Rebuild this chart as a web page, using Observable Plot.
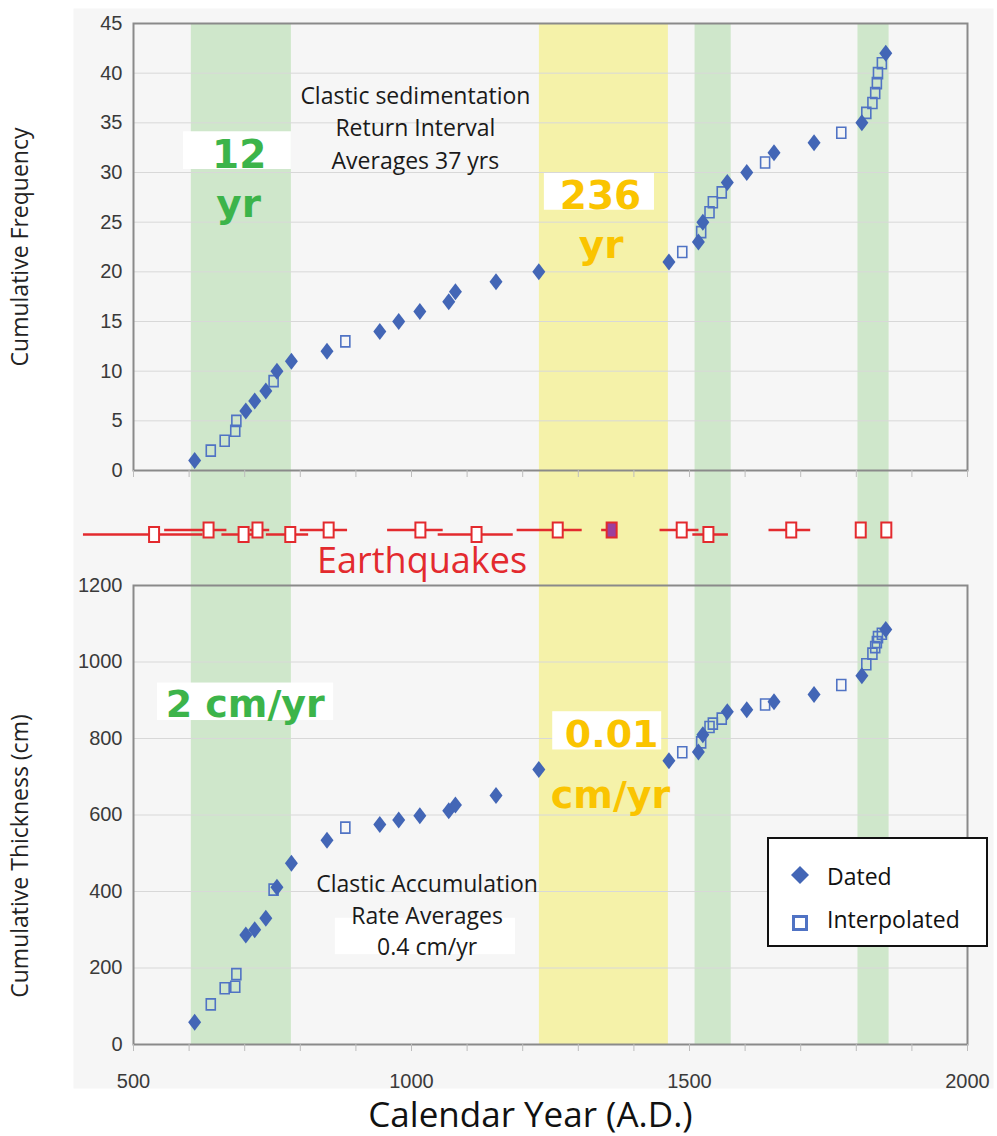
<!DOCTYPE html>
<html>
<head>
<meta charset="utf-8">
<script src="https://cdn.jsdelivr.net/npm/d3@7"></script>
<script src="https://cdn.jsdelivr.net/npm/@observablehq/plot@0.6"></script>
<style>
  body { margin: 0; background: #ffffff; }
  #chart { position: relative; width: 997px; height: 1136px; overflow: hidden; background: #fff; }
  #chart svg { position: absolute; left: 0; }
  .legend { position: absolute; left: 767px; top: 837px; width: 221px; height: 110px; box-sizing: border-box;
            border: 2px solid #111; background: #fff; }
  .legend svg { position: absolute; left: 0; top: 0; }
</style>
</head>
<body>
<div id="chart"></div>
<script>
// ---------------- data ----------------
const years        = [610, 639, 664, 683, 685, 702, 718, 738, 752, 758, 784, 848, 881, 943, 977, 1015, 1067, 1079, 1152, 1229,
                      1463, 1487, 1516, 1521, 1524, 1536, 1542, 1558, 1568, 1603, 1636, 1652, 1724, 1773, 1810, 1818, 1829, 1834, 1837, 1839, 1846, 1853];
const eventType    = ["Dated","Interpolated","Interpolated","Interpolated","Interpolated","Dated","Dated","Dated","Interpolated","Dated",
                      "Dated","Dated","Interpolated","Dated","Dated","Dated","Dated","Dated","Dated","Dated",
                      "Dated","Interpolated","Dated","Interpolated","Dated","Interpolated","Interpolated","Interpolated","Dated","Dated",
                      "Interpolated","Dated","Dated","Interpolated","Dated","Interpolated","Interpolated","Interpolated","Interpolated","Interpolated","Interpolated","Dated"];
const cumFrequency = [1, 2, 3, 4, 5, 6, 7, 8, 9, 10, 11, 12, 13, 14, 15, 16, 17, 18, 19, 20,
                      21, 22, 23, 24, 25, 26, 27, 28, 29, 30, 31, 32, 33, 34, 35, 36, 37, 38, 39, 40, 41, 42];
const cumThickness = [58, 105, 147, 151, 184, 286, 300, 330, 405, 411, 474, 534, 567, 575, 587, 598, 611, 626, 651, 719,
                      742, 764, 765, 790, 810, 830, 839, 852, 870, 875, 889, 896, 915, 940, 964, 994, 1022, 1039, 1052, 1065, 1074, 1085];

// earthquakes: central year, range, row
const eqYear = [537, 635, 698, 723, 782, 851, 1016, 1117, 1263, 1360, 1486, 1534, 1683, 1808, 1854];
const eqMin  = [410, 556, 659, 710, 739, 800, 957, 1048, 1190, 1342, 1447, 1506, 1643, null, null];
const eqMax  = [625, 668, 715, 745, 815, 885, 1057, 1183, 1307, 1370, 1517, 1570, 1718, null, null];
const eqLane = [1, 0, 1, 0, 1, 0, 0, 1, 0, 0, 0, 1, 0, 0, 0];
const eqKind = ["open","open","open","open","open","open","open","open","open","filled","open","open","open","open","open"];

// shaded periods
const bandStart = [604, 1230, 1510, 1803];
const bandEnd   = [784, 1462, 1575, 1859];
const bandRate  = ["fast", "slow", "fast", "fast"];

// ticks
const yearMinor  = [500, 600, 700, 800, 900, 1000, 1100, 1200, 1300, 1400, 1500, 1600, 1700, 1800, 1900, 2000];
const yearLabels = [500, 1000, 1500, 2000];
const freqTicks  = [0, 5, 10, 15, 20, 25, 30, 35, 40, 45];
const thickTicks = [0, 200, 400, 600, 800, 1000, 1200];

// ---------------- tables ----------------
const events = years.map((y, i) => ({year: y, type: eventType[i], freq: cumFrequency[i], thick: cumThickness[i]}));
const quakes = eqYear.map((y, i) => ({year: y, lo: eqMin[i], hi: eqMax[i], lane: eqLane[i], kind: eqKind[i]}));
const bands  = bandStart.map((s, i) => ({start: s, end: bandEnd[i], rate: bandRate[i]}));

// ---------------- styles ----------------
const W = 997, ML = 133, MR = 30;
const GREEN = "#3cb44a", GOLD = "#fac400", RED = "#e32a2e";
const DIAMOND_FILL = "#4366b6", SQUARE_STROKE = "#5073c4";
const diamondSym = {draw(ctx) { ctx.moveTo(0, -8.5); ctx.lineTo(6.5, 0); ctx.lineTo(0, 8.5); ctx.lineTo(-6.5, 0); ctx.closePath(); }};
const hollowSq   = {draw(ctx) { ctx.rect(-4.5, -5.5, 9, 11); }};
const quakeBox   = {draw(ctx) { ctx.rect(-5, -7.5, 10, 15); }};
const baseStyle  = {background: "transparent", fontFamily: "Liberation Sans, Arial, sans-serif", fontSize: "20px", color: "#3a3a3a", overflow: "visible"};
const bigFont = "DejaVu Sans, sans-serif";
const txtFont = "Open Sans, sans-serif";
const plain = d => String(d);

const chart = document.getElementById("chart");
function place(svg, top) { svg.style.top = top + "px"; chart.appendChild(svg); }

// ---------------- background: panel fill + shaded periods ----------------
place(Plot.plot({
  width: W, height: 1136, marginLeft: ML, marginRight: MR, marginTop: 23, marginBottom: 92,
  style: baseStyle,
  x: {domain: [500, 2000], axis: null},
  marks: [
    Plot.frame({fill: "#f6f6f6", stroke: null, insetLeft: -60, insetRight: -26, insetTop: -15, insetBottom: -44}),
    Plot.rect(bands, {x1: "start", x2: "end", fill: d => d.rate === "fast" ? "#cfe7cb" : "#f5f2a9"})
  ]
}), 0);

// ---------------- top panel: cumulative frequency ----------------
place(Plot.plot({
  width: W, height: 490, marginLeft: ML, marginRight: MR, marginTop: 23, marginBottom: 20,
  style: baseStyle,
  x: {domain: [500, 2000]},
  y: {domain: [0, 45]},
  marks: [
    Plot.ruleY(freqTicks.filter(v => v > 0 && v < 45), {stroke: "#d8d8d8", strokeWidth: 1}),
    Plot.frame({stroke: "#8a8a8a", strokeWidth: 2}),
    Plot.axisX({ticks: yearMinor, tickSize: 7, tickFormat: () => "", stroke: "#bdbdbd", label: null}),
    Plot.axisY({ticks: freqTicks, tickFormat: plain, tickSize: 0, tickPadding: 11, fontSize: 20, fill: "#3a3a3a", label: null}),
    Plot.text(["Cumulative Frequency"], {frameAnchor: "left", textAnchor: "middle", lineAnchor: "middle", rotate: -90, dx: -113, fontSize: 23, fontFamily: txtFont, fill: "#222"}),
    Plot.text(["Clastic sedimentation\nReturn Interval\nAverages 37 yrs"], {x: 1007, y: 34.7, fontSize: 23, lineHeight: 1.41, fontFamily: txtFont, fill: "#1a1a1a"}),
    Plot.rect([0], {x1: 590, x2: 784, y1: 30.3, y2: 34.1, fill: "white"}),
    Plot.text(["12"], {x: 690, y: 31.7, fontSize: 39, fontWeight: "bold", fontFamily: bigFont, fill: GREEN}),
    Plot.text(["yr"], {x: 689, y: 26.8, fontSize: 39, fontWeight: "bold", fontFamily: bigFont, fill: GREEN}),
    Plot.rect([0], {x1: 1239, x2: 1437, y1: 26.2, y2: 29.9, fill: "white"}),
    Plot.text(["236"], {x: 1340, y: 27.6, fontSize: 39, fontWeight: "bold", fontFamily: bigFont, fill: GOLD}),
    Plot.text(["yr"], {x: 1341, y: 22.6, fontSize: 39, fontWeight: "bold", fontFamily: bigFont, fill: GOLD}),
    Plot.dot(events.filter(d => d.type === "Interpolated"), {x: "year", y: "freq", symbol: hollowSq, fill: "none", stroke: SQUARE_STROKE, strokeWidth: 1.6}),
    Plot.dot(events.filter(d => d.type === "Dated"), {x: "year", y: "freq", symbol: diamondSym, fill: DIAMOND_FILL, stroke: "none"})
  ]
}), 0);

// ---------------- earthquake strip ----------------
place(Plot.plot({
  width: W, height: 95, marginLeft: ML, marginRight: MR, marginTop: 0, marginBottom: 0,
  style: baseStyle,
  x: {domain: [500, 2000], axis: null},
  y: {domain: [0, 1], range: [39.5, 44], axis: null},
  marks: [
    Plot.ruleY(quakes.filter(d => d.lo != null), {y: "lane", x1: "lo", x2: "hi", stroke: RED, strokeWidth: 2.5}),
    Plot.dot(quakes.filter(d => d.kind === "open"), {x: "year", y: "lane", symbol: quakeBox, fill: "white", stroke: RED, strokeWidth: 2}),
    Plot.dot(quakes.filter(d => d.kind === "filled"), {x: "year", y: "lane", symbol: quakeBox, fill: "#9c3f9d", stroke: RED, strokeWidth: 2}),
    Plot.text(["Earthquakes"], {x: 1019, frameAnchor: "bottom", textAnchor: "middle", lineAnchor: "middle", dy: -24, fontSize: 36, fontFamily: txtFont, fill: RED})
  ]
}), 490);

// ---------------- bottom panel: cumulative thickness ----------------
place(Plot.plot({
  width: W, height: 576, marginLeft: ML, marginRight: MR, marginTop: 25, marginBottom: 92,
  style: baseStyle,
  x: {domain: [500, 2000]},
  y: {domain: [0, 1200]},
  marks: [
    Plot.ruleY(thickTicks.filter(v => v > 0 && v < 1200), {stroke: "#d8d8d8", strokeWidth: 1}),
    Plot.frame({stroke: "#8a8a8a", strokeWidth: 2}),
    Plot.axisX({ticks: yearMinor, tickSize: 7, tickFormat: () => "", stroke: "#bdbdbd", label: null}),
    Plot.axisX({ticks: yearLabels, tickFormat: plain, tickSize: 0, tickPadding: 29, fontSize: 20, fill: "#3a3a3a", label: null}),
    Plot.axisY({ticks: thickTicks, tickFormat: plain, tickSize: 0, tickPadding: 11, fontSize: 20, fill: "#3a3a3a", label: null}),
    Plot.text(["Cumulative Thickness (cm)"], {frameAnchor: "left", textAnchor: "middle", lineAnchor: "middle", rotate: -90, dx: -113, dy: 41, fontSize: 23, fontFamily: txtFont, fill: "#222"}),
    Plot.text(["Calendar Year (A.D.)"], {frameAnchor: "bottom", textAnchor: "middle", lineAnchor: "middle", dx: -20, dy: 71, fontSize: 35, fontFamily: txtFont, fill: "#111"}),
    Plot.rect([0], {x1: 863, x2: 1187, y1: 235, y2: 330, fill: "white"}),
    Plot.text(["Clastic Accumulation\nRate Averages\n0.4 cm/yr"], {x: 1028, y: 343, fontSize: 23, lineHeight: 1.39, fontFamily: txtFont, fill: "#1a1a1a"}),
    Plot.rect([0], {x1: 543, x2: 860, y1: 847, y2: 945, fill: "white"}),
    Plot.text(["2 cm/yr"], {x: 701, y: 889, fontSize: 38, fontWeight: "bold", fontFamily: bigFont, fill: GREEN}),
    Plot.rect([0], {x1: 1254, x2: 1450, y1: 770, y2: 870, fill: "white"}),
    Plot.text(["0.01"], {x: 1360, y: 809, fontSize: 38, fontWeight: "bold", fontFamily: bigFont, fill: GOLD}),
    Plot.text(["cm/yr"], {x: 1358, y: 650, fontSize: 38, fontWeight: "bold", fontFamily: bigFont, fill: GOLD}),
    Plot.dot(events.filter(d => d.type === "Interpolated"), {x: "year", y: "thick", symbol: hollowSq, fill: "none", stroke: SQUARE_STROKE, strokeWidth: 1.6}),
    Plot.dot(events.filter(d => d.type === "Dated"), {x: "year", y: "thick", symbol: diamondSym, fill: DIAMOND_FILL, stroke: "none"})
  ]
}), 560);

// ---------------- legend ----------------
const legend = document.createElement("div");
legend.className = "legend";
legend.innerHTML = `
<svg width="217" height="106" xmlns="http://www.w3.org/2000/svg" font-family="Open Sans, sans-serif" font-size="23" fill="#111">
  <path d="M31,27 L40,36 L31,45 L22,36 Z" fill="${DIAMOND_FILL}"/>
  <text x="58" y="46">Dated</text>
  <rect x="24.5" y="77.5" width="13" height="13" fill="none" stroke="${SQUARE_STROKE}" stroke-width="3"/>
  <text x="58" y="89">Interpolated</text>
</svg>`;
chart.appendChild(legend);
</script>
</body>
</html>
